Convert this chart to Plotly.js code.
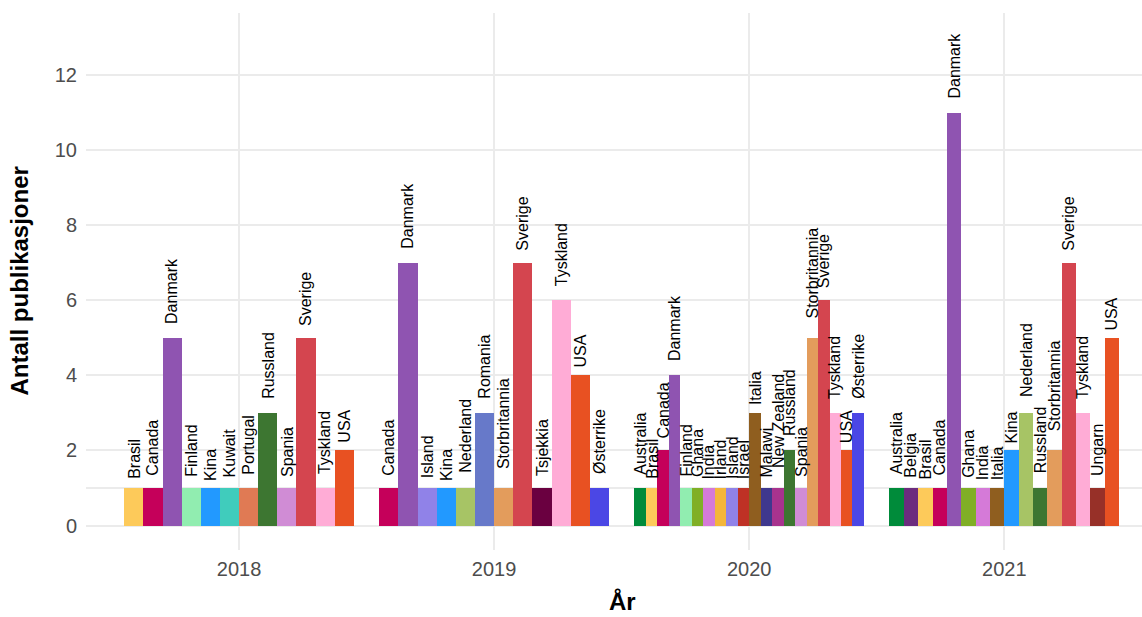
<!DOCTYPE html>
<html>
<head>
<meta charset="utf-8">
<script src="https://cdn.plot.ly/plotly-3.0.1.min.js"></script>
<style>html,body{margin:0;padding:0;background:#fff;overflow:hidden}</style>
</head>
<body>
<div id="chart" style="width:1142px;height:617px"></div>
<script>
// ---- data ----
const years = ['2018', '2019', '2020', '2021'];

const countries2018 = ['Brasil','Canada','Danmark','Finland','Kina','Kuwait','Portugal','Russland','Spania','Sverige','Tyskland','USA'];
const values2018    = [1, 1, 5, 1, 1, 1, 1, 3, 1, 5, 1, 2];

const countries2019 = ['Canada','Danmark','Island','Kina','Nederland','Romania','Storbritannia','Sverige','Tsjekkia','Tyskland','USA','Østerrike'];
const values2019    = [1, 7, 1, 1, 1, 3, 1, 7, 1, 6, 4, 1];

const countries2020 = ['Australia','Brasil','Canada','Danmark','Finland','Ghana','India','Irland','Island','Israel','Italia','Malawi','New Zealand','Russland','Spania','Storbritannia','Sverige','Tyskland','USA','Østerrike'];
const values2020    = [1, 1, 2, 4, 1, 1, 1, 1, 1, 1, 3, 1, 1, 2, 1, 5, 6, 3, 2, 3];

const countries2021 = ['Australia','Belgia','Brasil','Canada','Danmark','Ghana','India','Italia','Kina','Nederland','Russland','Storbritannia','Sverige','Tyskland','Ungarn','USA'];
const values2021    = [1, 1, 1, 1, 11, 1, 1, 1, 2, 3, 1, 2, 7, 3, 1, 5];

const colorCountries = ['Australia','Belgia','Brasil','Canada','Danmark','Finland','Ghana','India','Irland','Island','Israel','Italia','Kina','Kuwait','Malawi','Nederland','New Zealand','Portugal','Romania','Russland','Spania','Storbritannia','Sverige','Tsjekkia','Tyskland','Ungarn','USA','Østerrike'];
const colorValues    = ['#008B3A','#6C2C7E','#FDCA5A','#C5005A','#8F54B1','#91EDB0','#80AF26','#D57AD8','#F4B63A','#9082E8','#BF3125','#8F5E1F','#2299FF','#40CCBC','#3F388E','#A7C465','#A8338E','#E07A54','#6779C9','#3D7631','#D08CD5','#E39C5C','#D4454F','#6A0040','#FFACD6','#973028','#E85122','#4B47E5'];

const yTicks = [0, 2, 4, 6, 8, 10, 12];

// ---- build ----
const groups = [
  {c: countries2018, v: values2018},
  {c: countries2019, v: values2019},
  {c: countries2020, v: values2020},
  {c: countries2021, v: values2021}
];
const colorOf = name => colorValues[colorCountries.indexOf(name)];

const canvas = document.createElement('canvas');
const ctx = canvas.getContext('2d');
ctx.font = '16px "Liberation Sans", Arial, sans-serif';

const FONT = '"Liberation Sans", Arial, Helvetica, sans-serif';
const traces = [];
const annotations = [];

groups.forEach((g, gi) => {
  const n = g.c.length;
  const w = 0.9 / n;
  const center = gi + 1;
  const xs = g.c.map((_, i) => center - 0.45 + (i + 0.5) * w);
  traces.push({
    type: 'bar',
    x: xs,
    y: g.v,
    width: g.c.map(() => w),
    marker: {color: g.c.map(colorOf), line: {width: 0}},
    hoverinfo: 'skip',
    showlegend: false
  });
  g.c.forEach((name, i) => {
    const tw = ctx.measureText(name).width;
    annotations.push({
      x: xs[i], y: g.v[i], xref: 'x', yref: 'y',
      text: name, showarrow: false, textangle: -90,
      xanchor: 'center', yanchor: 'bottom',
      yshift: 0.2 * tw + 1,
      borderpad: 0, borderwidth: 0,
      font: {family: FONT, size: 16, color: '#000000'}
    });
  });
});

const L = 86, R = 0, T = 13, B = 67, W = 1142, H = 617;
const pw = W - L - R, ph = H - T - B;

annotations.push({
  xref: 'paper', yref: 'paper', x: (19 - L) / pw, y: 0.5,
  xanchor: 'center', yanchor: 'middle', textangle: -90,
  text: '<b>Antall publikasjoner</b>', showarrow: false,
  borderpad: 0, borderwidth: 0,
  font: {family: FONT, size: 24, color: '#000000'}
});
annotations.push({
  xref: 'paper', yref: 'paper', x: (622 - L) / pw, y: -(601 - (T + ph)) / ph,
  xanchor: 'center', yanchor: 'middle',
  text: '<b>År</b>', showarrow: false,
  borderpad: 0, borderwidth: 0,
  font: {family: FONT, size: 24, color: '#000000'}
});

const layout = {
  width: W, height: H,
  margin: {l: L, r: R, t: T, b: B, pad: 0},
  paper_bgcolor: '#ffffff', plot_bgcolor: '#ffffff',
  barmode: 'overlay',
  bargap: 0,
  font: {family: FONT},
  xaxis: {
    type: 'linear', range: [0.4, 4.54],
    tickvals: [1, 2, 3, 4], ticktext: years,
    showgrid: true, gridcolor: '#EBEBEB', gridwidth: 2,
    zeroline: false, showline: false, ticks: '',
    ticklabelstandoff: 5,
    tickfont: {family: FONT, size: 20, color: '#4D4D4D'},
    fixedrange: true
  },
  yaxis: {
    range: [-0.65, 13.65],
    tickvals: yTicks, ticktext: yTicks.map(String),
    showgrid: true, gridcolor: '#EBEBEB', gridwidth: 2,
    zeroline: false, showline: false, ticks: '',
    ticklabelstandoff: 8,
    tickfont: {family: FONT, size: 20, color: '#4D4D4D'},
    fixedrange: true
  },
  shapes: [{
    type: 'line', xref: 'paper', yref: 'y', x0: 0, x1: 1, y0: 1, y1: 1,
    layer: 'below', line: {color: '#EBEBEB', width: 2}
  }],
  annotations: annotations
};

Plotly.newPlot('chart', traces, layout, {staticPlot: true, displayModeBar: false});
</script>
</body>
</html>
